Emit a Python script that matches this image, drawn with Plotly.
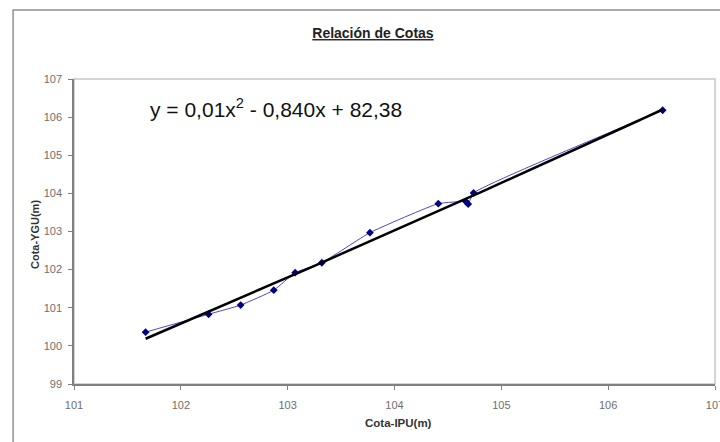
import numpy as np
import plotly.graph_objects as go

# Data
cota_ipu = [101.67, 102.26, 102.56, 102.87, 103.07, 103.32, 103.77, 104.41, 104.67, 104.69, 104.74, 106.51]
cota_ygu = [100.36, 100.83, 101.07, 101.46, 101.92, 102.18, 102.97, 103.73, 103.78, 103.72, 104.01, 106.18]

x_ticks = [101, 102, 103, 104, 105, 106, 107]
y_ticks = [99, 100, 101, 102, 103, 104, 105, 106, 107]

title_text = "<b><u>Relación de Cotas</u></b>"
x_title = "<b>Cota-IPU(m)</b>"
y_title = "<b>Cota-YGU(m)</b>"
equation = "y = 0,01x<sup>2</sup> - 0,840x + 82,38"

# Polynomial (order 2) trendline fitted from the data, as Excel does
coef = np.polyfit(cota_ipu, cota_ygu, 2)
tx = np.linspace(min(cota_ipu), max(cota_ipu), 100)
ty = np.polyval(coef, tx)

FONT = "Arial, Liberation Sans, sans-serif"

fig = go.Figure()
fig.add_trace(go.Scatter(
    x=cota_ipu, y=cota_ygu, mode="lines+markers",
    line=dict(color="#4a4ac8", width=1, shape="spline", smoothing=0.4),
    marker=dict(symbol="diamond", size=6, color="#000080"),
    showlegend=False, hoverinfo="skip"))
fig.add_trace(go.Scatter(
    x=tx, y=ty, mode="lines",
    line=dict(color="black", width=2.5),
    showlegend=False, hoverinfo="skip"))

fig.update_layout(
    width=720, height=442,
    margin=dict(l=74, r=5, t=79, b=58, autoexpand=False),
    paper_bgcolor="white", plot_bgcolor="white",
    font=dict(family=FONT, color="#555555"),
    title=dict(text=title_text, x=0.518, xanchor="center", y=0.925, yanchor="middle",
               font=dict(size=14, color="#222222", family=FONT)),
    xaxis=dict(range=[101, 107], tickvals=x_ticks, showgrid=False, zeroline=False,
               showline=True, linecolor="#808080", linewidth=1.5,
               ticks="outside", ticklen=4, tickcolor="#808080",
               ticklabelstandoff=6, ticklabeloverflow="allow", automargin=False,
               tickfont=dict(size=11, color="#6e6e6e")),
    yaxis=dict(range=[99, 107], tickvals=y_ticks, showgrid=False, zeroline=False,
               showline=True, linecolor="#808080", linewidth=1.5,
               ticks="outside", ticklen=4, tickcolor="#808080",
               ticklabelstandoff=4, automargin=False,
               tickfont=dict(size=11, color="#6e6e6e")),
    shapes=[
        dict(type="rect", xref="paper", yref="paper", x0=0, x1=1, y0=0, y1=1,
             line=dict(color="#c8c8c8", width=1.5), layer="below"),
        dict(type="rect", xref="paper", yref="paper", x0=-0.095, x1=1.5, y0=-0.5, y1=1.226,
             line=dict(color="#909090", width=1.5), layer="below"),
    ],
    annotations=[
        dict(text=equation, xref="paper", yref="paper", x=0.116, y=0.905,
             xanchor="left", yanchor="middle", showarrow=False,
             font=dict(size=21, color="#111111", family=FONT)),
        dict(text=x_title, xref="paper", yref="paper", x=(398 - 74) / 641, y=(384 - 423) / 305,
             xanchor="center", yanchor="middle", showarrow=False,
             font=dict(size=11.5, color="#333333", family=FONT)),
        dict(text=y_title, xref="paper", yref="paper", x=(35 - 74) / 641, y=(384 - 235) / 305,
             xanchor="center", yanchor="middle", showarrow=False, textangle=-90,
             font=dict(size=11, color="#333333", family=FONT)),
    ],
)

fig.write_html("out.html")
